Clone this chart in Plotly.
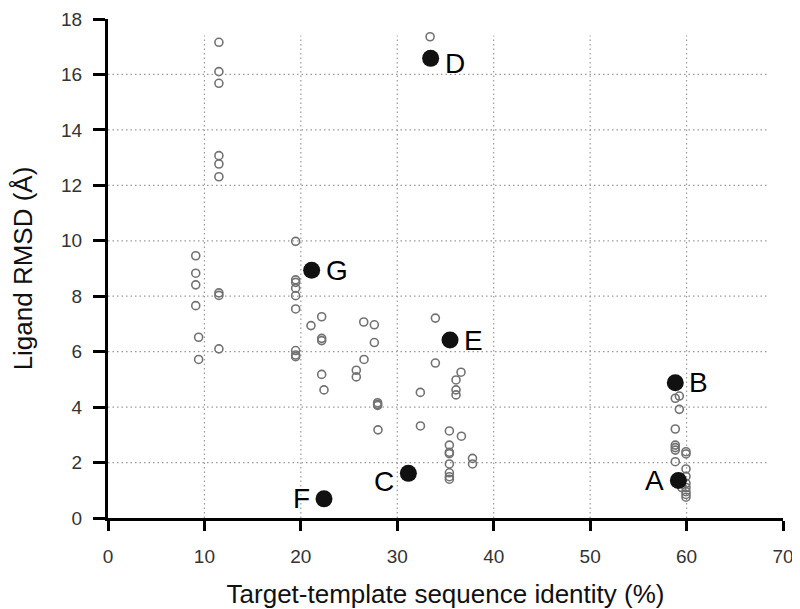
import plotly.graph_objects as go

# Open circles: all models
open_x = [11.5, 11.5, 11.5, 11.5, 11.5, 11.5, 11.5, 11.5, 11.5,
          9.1, 9.1, 9.1, 9.1, 9.4, 9.4,
          19.46, 19.46, 19.46, 19.46, 19.46, 19.46, 19.46, 19.46, 19.46,
          22.16, 21.05, 22.16, 22.16, 26.52, 27.62, 27.62, 26.55, 25.75, 25.75,
          22.16, 22.4, 27.96, 27.96, 27.96, 28.0,
          33.95, 33.95, 36.61, 36.09, 36.09, 36.09, 32.39, 32.4, 35.4, 36.65,
          35.4, 35.4, 35.4, 35.4, 35.4, 35.4, 35.4, 37.8, 37.8,
          33.4,
          58.83, 59.25, 59.25, 58.83, 58.83, 58.83, 58.83, 59.94, 59.94, 58.83,
          59.94, 59.94, 59.94, 59.94, 59.94, 59.94, 59.94, 59.5]
open_y = [17.16, 16.10, 15.68, 13.07, 12.77, 12.31, 8.12, 8.03, 6.10,
          9.46, 8.83, 8.41, 7.66, 6.52, 5.72,
          9.98, 8.59, 8.50, 8.29, 8.02, 7.54, 6.04, 5.88, 5.82,
          7.26, 6.94, 6.48, 6.40, 7.07, 6.97, 6.33, 5.72, 5.33, 5.09,
          5.18, 4.62, 4.16, 4.10, 4.06, 3.18,
          7.21, 5.59, 5.26, 4.98, 4.62, 4.44, 4.53, 3.32, 3.14, 2.95,
          2.63, 2.37, 2.32, 1.95, 1.63, 1.49, 1.40, 2.15, 1.95,
          17.36,
          4.32, 4.40, 3.92, 3.21, 2.63, 2.54, 2.45, 2.39, 2.31, 2.03,
          1.77, 1.50, 1.25, 1.10, 0.95, 0.85, 0.75, 1.10]

# Highlighted models
hl_labels = ["A", "B", "C", "D", "E", "F", "G"]
hl_x = [59.15, 58.83, 31.15, 33.46, 35.47, 22.4, 21.12]
hl_y = [1.35, 4.88, 1.61, 16.58, 6.42, 0.69, 8.94]
hl_side = ["left", "right", "left", "right", "right", "left", "right"]
hl_dy = [0, 0, -8, -5, 0, 0, 0]

x_ticks = [0, 10, 20, 30, 40, 50, 60, 70]
y_ticks = [0, 2, 4, 6, 8, 10, 12, 14, 16, 18]

fig = go.Figure()
fig.add_trace(go.Scatter(
    x=open_x, y=open_y, mode="markers",
    marker=dict(symbol="circle-open", size=8, color="#727272", line=dict(width=1.6)),
    hoverinfo="x+y", showlegend=False))
fig.add_trace(go.Scatter(
    x=hl_x, y=hl_y, mode="markers",
    marker=dict(symbol="circle", size=17, color="#111111"),
    hoverinfo="x+y", showlegend=False))

for lab, xx, yy, side, dy in zip(hl_labels, hl_x, hl_y, hl_side, hl_dy):
    fig.add_annotation(
        x=xx, y=yy, text=lab, showarrow=False,
        xanchor="left" if side == "right" else "right",
        xshift=12 if side == "right" else -12, yshift=dy,
        font=dict(family="Liberation Sans, Arial, sans-serif", size=28, color="#000"))

# Dotted gridlines (inner ticks only)
grid_style = dict(color="#9a9a9a", width=1.2, dash="1.5px,3px")
for gx in x_ticks[1:-1]:
    fig.add_shape(type="line", xref="x", yref="paper", x0=gx, x1=gx, y0=0, y1=0.967,
                  line=grid_style, layer="below")
for gy in y_ticks[1:-1]:
    fig.add_shape(type="line", xref="paper", yref="y", x0=0, x1=0.98, y0=gy, y1=gy,
                  line=grid_style, layer="below")

# page body has an 8px margin: the figure is sized so the plot lands where it should
fig.update_layout(
    width=792, height=601,
    margin=dict(l=100, r=17, t=11, b=91),
    plot_bgcolor="white", paper_bgcolor="white",
    font=dict(family="Liberation Sans, Arial, sans-serif"),
    xaxis=dict(
        range=[0, 70], tickmode="array", tickvals=x_ticks, automargin=False,
        showline=True, linecolor="#000", linewidth=3,
        ticks="outside", ticklen=10, tickwidth=2.5, tickcolor="#000",
        tickfont=dict(size=19, color="#333"), ticklabelstandoff=9,
        showgrid=False, zeroline=False,
        title=dict(text="Target-template sequence identity (%)",
                   font=dict(size=26, color="#111"), standoff=26),
    ),
    yaxis=dict(
        range=[0, 18], tickmode="array", tickvals=y_ticks, automargin=False,
        showline=True, linecolor="#000", linewidth=3,
        ticks="outside", ticklen=12, tickwidth=2.5, tickcolor="#000",
        tickfont=dict(size=19, color="#333"), ticklabelstandoff=7,
        showgrid=False, zeroline=False,
        title=dict(text="Ligand RMSD (Å)",
                   font=dict(size=26, color="#111"), standoff=37),
    ),
)

fig.write_html("out.html")
